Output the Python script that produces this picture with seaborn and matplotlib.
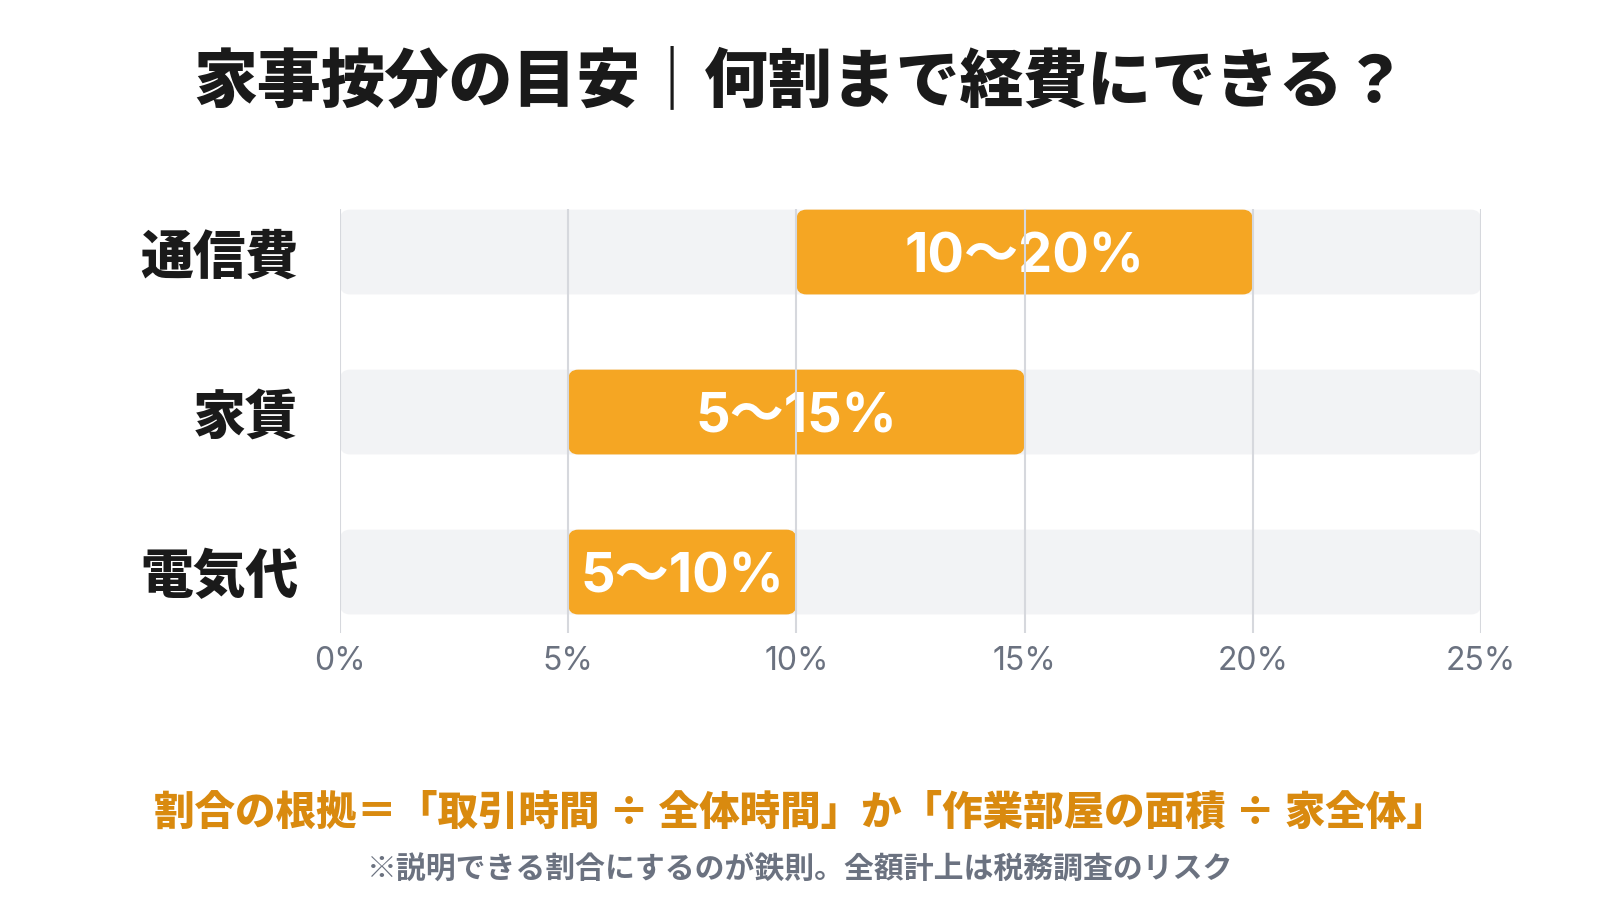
import matplotlib
matplotlib.use("Agg")
import matplotlib.pyplot as plt
import seaborn as sns
import pandas as pd
from matplotlib.patches import FancyBboxPatch

# ==========================================================
# DATA
# ==========================================================

categories = ["通信費", "家賃", "電気代"]
low_values = [10, 5, 5]
high_values = [20, 15, 10]
range_labels = ["10〜20%", "5〜15%", "5〜10%"]
axis_max = 25
tick_values = [0, 5, 10, 15, 20, 25]
tick_labels = ["0%", "5%", "10%", "15%", "20%", "25%"]

title_text = "家事按分の目安｜何割まで経費にできる？"
footer_text = "割合の根拠＝「取引時間 ÷ 全体時間」か「作業部屋の面積 ÷ 家全体」"
note_text = "※説明できる割合にするのが鉄則。全額計上は税務調査のリスク"

df = pd.DataFrame({
    "category": categories,
    "low": low_values,
    "high": high_values,
    "full": [axis_max] * len(categories),
})

# ==========================================================
# STYLE
# ==========================================================

sns.set_theme(style="white")
plt.rcParams["font.family"] = ["Noto Sans CJK JP", "DejaVu Sans"]

ORANGE = "#F5A623"
BG_GRAY = "#F2F3F5"
GRID = "#D6D8DD"

# axes placed in pixel terms (1600 x 900 canvas)
ax_left, ax_right = 340, 1481
ax_top, ax_bottom = 209, 633

fig = plt.figure(figsize=(16, 9), dpi=100)
ax = fig.add_axes([ax_left / 1600, 1 - ax_bottom / 900,
                   (ax_right - ax_left) / 1600, (ax_bottom - ax_top) / 900])

bar_h = 0.53

# background track
sns.barplot(data=df, y="category", x="full", color=BG_GRAY,
            width=bar_h, orient="h", ax=ax, saturation=1)

# range bars
ax.barh(range(len(categories)), df["high"] - df["low"], left=df["low"],
        height=bar_h, color=ORANGE)

# swap rectangles for rounded ones
px_per_x = (ax_right - ax_left) / axis_max
px_per_y = 160
for patch in list(ax.patches):
    x, y = patch.get_x(), patch.get_y()
    w, h = patch.get_width(), patch.get_height()
    rounded = FancyBboxPatch((x, y), w, h,
                             boxstyle="round,pad=0,rounding_size=0.22",
                             mutation_aspect=px_per_x / px_per_y,
                             facecolor=patch.get_facecolor(),
                             edgecolor="none", zorder=1)
    patch.remove()
    ax.add_patch(rounded)

# labels inside bars (nudged a little down to sit optically centred)
for i, (lo, hi, lab) in enumerate(zip(low_values, high_values, range_labels)):
    ax.text((lo + hi) / 2, i + 0.04, lab, ha="center", va="center",
            color="white", fontsize=39, fontweight="bold", zorder=2,
            family=["Inter", "Noto Sans CJK JP"])

ax.set_xlim(0, axis_max)
ax.set_ylim(2.381, -0.269)
ax.set_xticks(tick_values)
ax.set_xticklabels(tick_labels, fontsize=23, color="#6B7280",
                   family=["Inter", "Noto Sans CJK JP"])
ax.set_yticks(range(len(categories)))
ax.set_yticklabels(categories, fontsize=38, fontweight="black", color="#1A1A1A")
ax.tick_params(axis="x", length=0, pad=9)
ax.tick_params(axis="y", length=0, pad=30)
ax.set_xlabel("")
ax.set_ylabel("")

ax.set_axisbelow(False)
ax.grid(axis="x", color=GRID, linewidth=1.5)
ax.grid(axis="y", visible=False)
for s in ax.spines.values():
    s.set_visible(False)

# ==========================================================
# TEXTS
# ==========================================================

fig.text(0.5, 1 - 82 / 900, title_text, ha="center", va="center",
         fontsize=46, fontweight="black", color="#1A1A1A")
fig.text(0.5, 1 - 813 / 900, footer_text, ha="center", va="center",
         fontsize=29.2, fontweight="black", color="#D98A0F")
fig.text(0.5, 1 - 870 / 900, note_text, ha="center", va="center",
         fontsize=21.5, fontweight="bold", color="#6B7280")

fig.savefig("out.png", dpi=100, facecolor="white")
